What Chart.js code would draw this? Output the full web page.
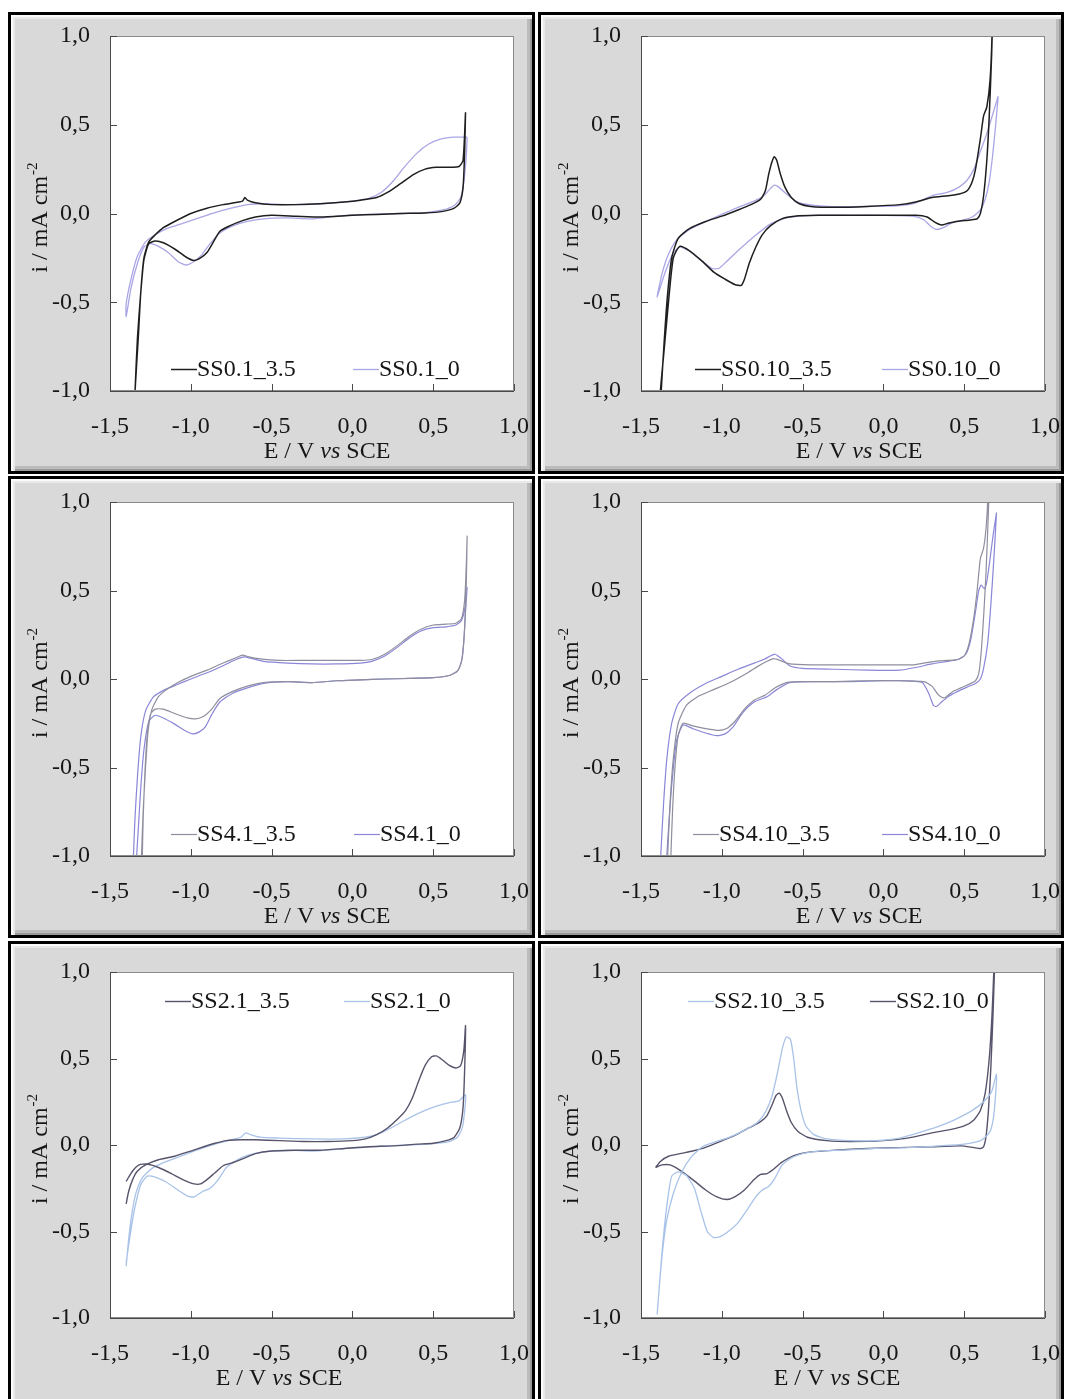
<!DOCTYPE html>
<html lang="en">
<head>
<meta charset="UTF-8">
<title>Cyclic voltammograms</title>
<script src="https://cdn.jsdelivr.net/npm/chart.js@4.4.1/dist/chart.umd.min.js"></script>
<style>
  html, body { margin: 0; padding: 0; background: #fff; width: 1065px; height: 1399px; overflow: hidden; }
  .panel {
    position: absolute; box-sizing: border-box;
    border: 3px solid #000; background: #d9d9d9;
    box-shadow: inset 2px 2px 0 #fbfbfb, inset 4px 4px 0 #e9e9e9,
                inset -2px -2px 0 #9a9a9a, inset -5px -5px 0 #bcbcbc;
  }
  .panel canvas { position: absolute; left: 0; top: 0; }
</style>
</head>
<body>
<script>
// axis ticks and titles
const xTickVals = [-1.5, -1.0, -0.5, 0.0, 0.5, 1.0];
const yTickVals = [-1.0, -0.5, 0.0, 0.5, 1.0];
const xTitleParts = ['E / V ', 'vs', ' SCE'];
const yTitleParts = ['i / mA cm', '-2'];

// [E (V vs SCE), i (mA cm-2)]
const ss01_35 = [[0.70,0.57],[0.695,0.36],[0.685,0.15],[0.665,0.06],[0.63,0.03],[0.56,0.012],[0.45,0.003],[0.3,0.0],[0.15,-0.005],[0.0,-0.01],[-0.2,-0.02],[-0.35,-0.015],[-0.5,-0.01],[-0.6,-0.02],[-0.68,-0.04],[-0.76,-0.07],[-0.82,-0.1],[-0.86,-0.16],[-0.9,-0.22],[-0.94,-0.25],[-0.98,-0.265],[-1.03,-0.245],[-1.1,-0.2],[-1.17,-0.165],[-1.22,-0.155],[-1.26,-0.17],[-1.29,-0.26],[-1.31,-0.45],[-1.33,-0.7],[-1.345,-1.0],[-1.352,-1.2],
  [-1.345,-1.0],[-1.325,-0.7],[-1.31,-0.45],[-1.29,-0.25],[-1.26,-0.16],[-1.22,-0.12],[-1.17,-0.08],[-1.1,-0.045],[-1.0,0.0],[-0.9,0.03],[-0.8,0.05],[-0.72,0.062],[-0.68,0.07],[-0.665,0.09],[-0.65,0.075],[-0.6,0.06],[-0.5,0.05],[-0.35,0.05],[-0.2,0.055],[-0.05,0.065],[0.05,0.075],[0.15,0.09],[0.22,0.12],[0.3,0.17],[0.38,0.22],[0.45,0.25],[0.52,0.26],[0.6,0.26],[0.66,0.265],[0.685,0.3],[0.70,0.57]];
const ss01_0 = [[0.71,0.43],[0.705,0.33],[0.69,0.18],[0.67,0.09],[0.63,0.045],[0.56,0.02],[0.45,0.005],[0.3,0.0],[0.1,-0.005],[-0.1,-0.015],[-0.25,-0.03],[-0.4,-0.025],[-0.55,-0.03],[-0.65,-0.045],[-0.74,-0.07],[-0.82,-0.11],[-0.88,-0.17],[-0.93,-0.23],[-0.98,-0.27],[-1.03,-0.29],[-1.08,-0.27],[-1.14,-0.22],[-1.2,-0.185],[-1.25,-0.17],[-1.29,-0.19],[-1.33,-0.28],[-1.37,-0.42],[-1.4,-0.58],
  [-1.4,-0.51],[-1.37,-0.37],[-1.33,-0.24],[-1.28,-0.16],[-1.22,-0.12],[-1.15,-0.085],[-1.05,-0.055],[-0.95,-0.025],[-0.85,0.005],[-0.75,0.03],[-0.65,0.05],[-0.55,0.055],[-0.4,0.05],[-0.2,0.055],[0.0,0.07],[0.1,0.085],[0.18,0.12],[0.25,0.18],[0.32,0.26],[0.4,0.34],[0.47,0.39],[0.55,0.42],[0.63,0.43],[0.71,0.43]];

const ss010_35 = [[0.68,1.25],[0.67,0.9],[0.655,0.55],[0.64,0.3],[0.62,0.1],[0.6,0.0],[0.58,-0.03],[0.55,-0.035],[0.5,-0.04],[0.45,-0.045],[0.4,-0.055],[0.36,-0.065],[0.32,-0.05],[0.27,-0.02],[0.2,-0.01],[0.0,-0.01],[-0.2,-0.01],[-0.4,-0.01],[-0.55,-0.015],[-0.63,-0.03],[-0.7,-0.07],[-0.75,-0.12],[-0.79,-0.19],[-0.83,-0.28],[-0.86,-0.37],[-0.88,-0.405],[-0.92,-0.4],[-0.98,-0.37],[-1.05,-0.33],[-1.12,-0.27],[-1.2,-0.21],[-1.26,-0.185],[-1.3,-0.25],[-1.33,-0.5],[-1.36,-0.8],[-1.38,-1.0],[-1.39,-1.2],
  [-1.385,-1.2],[-1.375,-1.0],[-1.355,-0.7],[-1.335,-0.45],[-1.31,-0.25],[-1.27,-0.14],[-1.2,-0.085],[-1.1,-0.045],[-1.0,-0.015],[-0.9,0.02],[-0.82,0.05],[-0.76,0.08],[-0.73,0.13],[-0.71,0.22],[-0.69,0.29],[-0.675,0.32],[-0.66,0.3],[-0.64,0.23],[-0.61,0.15],[-0.57,0.09],[-0.52,0.055],[-0.45,0.04],[-0.3,0.035],[-0.1,0.04],[0.1,0.05],[0.2,0.065],[0.3,0.09],[0.4,0.1],[0.47,0.11],[0.52,0.13],[0.55,0.18],[0.57,0.25],[0.6,0.42],[0.62,0.55],[0.64,0.6],[0.66,0.75],[0.672,1.0],[0.675,1.25]];
const ss010_0 = [[0.71,0.66],[0.695,0.5],[0.675,0.32],[0.655,0.18],[0.63,0.08],[0.6,0.02],[0.55,-0.02],[0.48,-0.04],[0.42,-0.055],[0.37,-0.08],[0.33,-0.09],[0.29,-0.07],[0.25,-0.035],[0.18,-0.015],[0.0,-0.01],[-0.2,-0.01],[-0.45,-0.01],[-0.6,-0.025],[-0.7,-0.06],[-0.8,-0.13],[-0.9,-0.21],[-0.97,-0.27],[-1.02,-0.31],[-1.06,-0.31],[-1.12,-0.27],[-1.2,-0.21],[-1.26,-0.19],[-1.3,-0.22],[-1.35,-0.33],[-1.4,-0.47],
  [-1.37,-0.34],[-1.33,-0.23],[-1.28,-0.15],[-1.2,-0.09],[-1.1,-0.045],[-1.0,-0.005],[-0.9,0.035],[-0.8,0.07],[-0.74,0.1],[-0.7,0.14],[-0.675,0.16],[-0.65,0.15],[-0.6,0.11],[-0.55,0.075],[-0.5,0.055],[-0.35,0.04],[-0.1,0.04],[0.1,0.045],[0.2,0.06],[0.3,0.1],[0.4,0.12],[0.47,0.15],[0.52,0.19],[0.56,0.25],[0.6,0.35],[0.64,0.45],[0.68,0.57],[0.71,0.66]];

const ss41_35 = [[0.71,0.81],[0.705,0.55],[0.695,0.3],[0.68,0.12],[0.655,0.05],[0.6,0.02],[0.5,0.008],[0.35,0.003],[0.2,0.0],[0.05,-0.005],[-0.1,-0.01],[-0.25,-0.02],[-0.4,-0.015],[-0.55,-0.02],[-0.65,-0.04],[-0.74,-0.07],[-0.82,-0.11],[-0.87,-0.17],[-0.92,-0.21],[-0.97,-0.225],[-1.02,-0.22],[-1.1,-0.195],[-1.17,-0.17],[-1.22,-0.17],[-1.25,-0.2],[-1.27,-0.32],[-1.285,-0.55],[-1.295,-0.8],[-1.3,-1.0],[-1.305,-1.2],
  [-1.31,-1.2],[-1.305,-1.0],[-1.295,-0.75],[-1.28,-0.5],[-1.265,-0.3],[-1.24,-0.17],[-1.2,-0.1],[-1.15,-0.06],[-1.08,-0.02],[-1.0,0.015],[-0.9,0.05],[-0.8,0.09],[-0.72,0.12],[-0.68,0.135],[-0.64,0.125],[-0.58,0.115],[-0.45,0.105],[-0.3,0.105],[-0.1,0.105],[0.05,0.105],[0.12,0.11],[0.2,0.14],[0.28,0.19],[0.35,0.24],[0.42,0.28],[0.5,0.305],[0.58,0.31],[0.64,0.315],[0.675,0.34],[0.695,0.45],[0.705,0.65],[0.71,0.81]];
const ss41_0 = [[0.71,0.52],[0.7,0.38],[0.69,0.22],[0.675,0.1],[0.65,0.045],[0.6,0.02],[0.5,0.008],[0.35,0.003],[0.2,0.0],[0.05,-0.005],[-0.1,-0.01],[-0.25,-0.02],[-0.4,-0.015],[-0.55,-0.025],[-0.65,-0.05],[-0.74,-0.08],[-0.82,-0.13],[-0.87,-0.2],[-0.91,-0.27],[-0.95,-0.3],[-0.99,-0.31],[-1.04,-0.29],[-1.1,-0.255],[-1.17,-0.22],[-1.22,-0.205],[-1.26,-0.24],[-1.29,-0.4],[-1.31,-0.62],[-1.325,-0.85],[-1.335,-1.0],[-1.34,-1.2],
  [-1.36,-1.2],[-1.355,-1.0],[-1.345,-0.78],[-1.33,-0.55],[-1.31,-0.33],[-1.28,-0.18],[-1.23,-0.1],[-1.16,-0.06],[-1.08,-0.03],[-1.0,0.0],[-0.9,0.035],[-0.8,0.075],[-0.72,0.11],[-0.67,0.125],[-0.62,0.115],[-0.55,0.1],[-0.4,0.09],[-0.25,0.085],[-0.1,0.085],[0.05,0.09],[0.12,0.1],[0.2,0.13],[0.28,0.18],[0.35,0.23],[0.42,0.27],[0.5,0.29],[0.58,0.295],[0.64,0.305],[0.675,0.33],[0.7,0.42],[0.71,0.52]];

const ss410_35 = [[0.66,1.25],[0.65,0.95],[0.635,0.6],[0.62,0.35],[0.605,0.15],[0.59,0.03],[0.57,-0.01],[0.53,-0.03],[0.48,-0.05],[0.43,-0.07],[0.39,-0.1],[0.37,-0.107],[0.34,-0.09],[0.3,-0.04],[0.25,-0.015],[0.1,-0.01],[-0.1,-0.01],[-0.3,-0.015],[-0.5,-0.015],[-0.6,-0.02],[-0.67,-0.05],[-0.73,-0.09],[-0.8,-0.12],[-0.86,-0.17],[-0.92,-0.24],[-0.97,-0.28],[-1.02,-0.29],[-1.1,-0.28],[-1.18,-0.265],[-1.24,-0.25],[-1.27,-0.32],[-1.29,-0.5],[-1.305,-0.75],[-1.315,-1.0],[-1.32,-1.2],
  [-1.34,-1.2],[-1.335,-1.0],[-1.32,-0.7],[-1.3,-0.45],[-1.27,-0.25],[-1.22,-0.15],[-1.15,-0.1],[-1.05,-0.06],[-0.95,-0.02],[-0.85,0.03],[-0.78,0.07],[-0.72,0.1],[-0.68,0.115],[-0.64,0.105],[-0.58,0.085],[-0.45,0.08],[-0.2,0.08],[0.1,0.08],[0.18,0.08],[0.25,0.09],[0.32,0.1],[0.4,0.105],[0.46,0.11],[0.5,0.13],[0.53,0.2],[0.56,0.35],[0.58,0.5],[0.6,0.68],[0.62,0.74],[0.635,0.85],[0.645,1.0],[0.65,1.25]];
const ss410_0 = [[0.7,0.94],[0.685,0.7],[0.665,0.42],[0.645,0.2],[0.62,0.06],[0.6,0.0],[0.57,-0.025],[0.52,-0.045],[0.46,-0.07],[0.4,-0.1],[0.36,-0.13],[0.33,-0.155],[0.31,-0.15],[0.28,-0.08],[0.24,-0.02],[0.15,-0.01],[0.0,-0.01],[-0.2,-0.015],[-0.4,-0.015],[-0.58,-0.02],[-0.66,-0.06],[-0.72,-0.1],[-0.8,-0.13],[-0.87,-0.19],[-0.93,-0.27],[-0.98,-0.31],[-1.03,-0.32],[-1.1,-0.305],[-1.18,-0.28],[-1.24,-0.26],[-1.28,-0.35],[-1.31,-0.6],[-1.33,-0.85],[-1.34,-1.0],[-1.345,-1.2],
  [-1.385,-1.2],[-1.378,-1.0],[-1.36,-0.7],[-1.34,-0.45],[-1.31,-0.25],[-1.27,-0.14],[-1.2,-0.08],[-1.1,-0.025],[-1.0,0.015],[-0.9,0.055],[-0.8,0.09],[-0.74,0.11],[-0.7,0.13],[-0.67,0.14],[-0.63,0.115],[-0.58,0.075],[-0.5,0.06],[-0.3,0.055],[-0.1,0.05],[0.1,0.05],[0.2,0.065],[0.3,0.085],[0.4,0.1],[0.46,0.11],[0.51,0.14],[0.54,0.22],[0.57,0.38],[0.59,0.5],[0.605,0.53],[0.625,0.51],[0.64,0.55],[0.66,0.68],[0.68,0.82],[0.7,0.94]];

const ss21_35 = [[-1.4,-0.34],[-1.385,-0.27],[-1.36,-0.2],[-1.33,-0.15],[-1.28,-0.115],[-1.2,-0.085],[-1.1,-0.065],[-1.0,-0.035],[-0.92,-0.01],[-0.85,0.01],[-0.78,0.025],[-0.7,0.03],[-0.6,0.03],[-0.45,0.025],[-0.3,0.02],[-0.15,0.02],[0.0,0.025],[0.08,0.035],[0.15,0.06],[0.22,0.1],[0.28,0.15],[0.33,0.2],[0.37,0.27],[0.41,0.37],[0.45,0.46],[0.49,0.51],[0.52,0.515],[0.56,0.49],[0.6,0.46],[0.64,0.445],[0.67,0.46],[0.69,0.55],[0.7,0.69],
  [0.695,0.45],[0.685,0.22],[0.665,0.1],[0.63,0.045],[0.58,0.025],[0.5,0.01],[0.4,0.005],[0.25,-0.005],[0.1,-0.01],[-0.05,-0.02],[-0.2,-0.03],[-0.35,-0.03],[-0.5,-0.035],[-0.6,-0.05],[-0.68,-0.08],[-0.75,-0.105],[-0.8,-0.12],[-0.85,-0.16],[-0.9,-0.2],[-0.94,-0.225],[-0.98,-0.225],[-1.05,-0.2],[-1.12,-0.165],[-1.2,-0.13],[-1.27,-0.11],[-1.32,-0.115],[-1.36,-0.15],[-1.4,-0.21]];
const ss21_0 = [[-1.4,-0.7],[-1.385,-0.55],[-1.365,-0.4],[-1.34,-0.28],[-1.3,-0.19],[-1.24,-0.135],[-1.15,-0.095],[-1.05,-0.06],[-0.95,-0.025],[-0.85,0.005],[-0.75,0.03],[-0.69,0.045],[-0.66,0.07],[-0.63,0.06],[-0.57,0.045],[-0.45,0.04],[-0.25,0.035],[-0.05,0.035],[0.08,0.045],[0.15,0.06],[0.22,0.09],[0.3,0.13],[0.38,0.17],[0.45,0.2],[0.52,0.225],[0.6,0.245],[0.66,0.255],[0.7,0.29],
  [0.695,0.2],[0.68,0.1],[0.65,0.045],[0.6,0.02],[0.5,0.008],[0.35,0.0],[0.2,-0.005],[0.05,-0.015],[-0.1,-0.025],[-0.25,-0.035],[-0.4,-0.03],[-0.55,-0.04],[-0.65,-0.06],[-0.72,-0.09],[-0.78,-0.13],[-0.83,-0.2],[-0.88,-0.25],[-0.93,-0.27],[-0.98,-0.3],[-1.02,-0.295],[-1.08,-0.26],[-1.15,-0.215],[-1.22,-0.185],[-1.27,-0.18],[-1.31,-0.23],[-1.35,-0.38],[-1.38,-0.55],[-1.4,-0.68]];

const ss210_35 = [[-1.4,-0.98],[-1.385,-0.8],[-1.365,-0.6],[-1.34,-0.43],[-1.3,-0.28],[-1.25,-0.16],[-1.19,-0.07],[-1.12,-0.01],[-1.05,0.015],[-0.95,0.045],[-0.85,0.09],[-0.78,0.13],[-0.73,0.19],[-0.69,0.28],[-0.655,0.42],[-0.625,0.56],[-0.6,0.625],[-0.575,0.61],[-0.555,0.5],[-0.535,0.33],[-0.51,0.2],[-0.48,0.11],[-0.43,0.06],[-0.35,0.035],[-0.2,0.025],[-0.05,0.025],[0.1,0.04],[0.25,0.08],[0.35,0.11],[0.45,0.15],[0.55,0.2],[0.62,0.25],[0.67,0.31],[0.7,0.41],
  [0.695,0.3],[0.68,0.15],[0.655,0.07],[0.6,0.025],[0.5,0.005],[0.35,-0.005],[0.15,-0.015],[-0.05,-0.02],[-0.25,-0.03],[-0.4,-0.035],[-0.5,-0.05],[-0.58,-0.08],[-0.63,-0.12],[-0.67,-0.19],[-0.71,-0.24],[-0.75,-0.26],[-0.79,-0.3],[-0.84,-0.37],[-0.9,-0.45],[-0.96,-0.5],[-1.01,-0.53],[-1.05,-0.535],[-1.09,-0.5],[-1.13,-0.38],[-1.17,-0.25],[-1.22,-0.175],[-1.27,-0.155],[-1.31,-0.18],[-1.34,-0.35],[-1.37,-0.62],[-1.4,-0.98]];
const ss210_0 = [[-1.41,-0.13],[-1.38,-0.095],[-1.33,-0.065],[-1.26,-0.05],[-1.18,-0.035],[-1.12,-0.02],[-1.05,0.005],[-0.97,0.035],[-0.9,0.065],[-0.83,0.1],[-0.76,0.135],[-0.72,0.17],[-0.69,0.23],[-0.665,0.285],[-0.645,0.3],[-0.625,0.27],[-0.6,0.2],[-0.57,0.13],[-0.53,0.08],[-0.47,0.045],[-0.35,0.025],[-0.2,0.02],[0.0,0.025],[0.15,0.04],[0.3,0.07],[0.42,0.09],[0.5,0.11],[0.56,0.145],[0.6,0.2],[0.63,0.3],[0.655,0.5],[0.672,0.75],[0.683,1.0],[0.69,1.25],
  [0.695,1.25],[0.68,0.8],[0.665,0.45],[0.65,0.2],[0.635,0.05],[0.62,-0.01],[0.6,-0.02],[0.56,-0.015],[0.48,-0.005],[0.3,-0.01],[0.1,-0.015],[-0.1,-0.02],[-0.3,-0.03],[-0.45,-0.04],[-0.55,-0.06],[-0.63,-0.1],[-0.68,-0.14],[-0.72,-0.165],[-0.76,-0.17],[-0.8,-0.2],[-0.86,-0.26],[-0.92,-0.3],[-0.97,-0.315],[-1.03,-0.3],[-1.1,-0.26],[-1.18,-0.2],[-1.26,-0.145],[-1.32,-0.115],[-1.37,-0.115],[-1.41,-0.13]];

// page geometry (px): outer box [start, size] and plot area [start, end]
const cols = [{ box: [8, 527], plot: [110, 514] }, { box: [538, 526], plot: [641, 1045] }];
const rows = [{ box: [12, 462], plot: [36, 391] }, { box: [476, 462], plot: [502, 856] }, { box: [941, 470], plot: [972, 1318] }];

const C = { black: '#1e1e1e', lilac: '#aaa6e6', grey: '#8e8e9e', violet: '#8a86d8', dark: '#57536b', sky: '#a9c3e8' };

const panelDefs = [
  { col: 0, row: 0, legend: 'bottom', legendX: [61, 243], titleDx: 15,
    series: [['SS0.1_3.5', ss01_35, C.black, 1.5], ['SS0.1_0', ss01_0, C.lilac, 1.3]] },
  { col: 1, row: 0, legend: 'bottom', legendX: [54, 241], titleDx: 16,
    series: [['SS0.10_3.5', ss010_35, C.black, 1.5], ['SS0.10_0', ss010_0, C.lilac, 1.3]] },
  { col: 0, row: 1, legend: 'bottom', legendX: [61, 244], titleDx: 15,
    series: [['SS4.1_3.5', ss41_35, C.grey, 1.2], ['SS4.1_0', ss41_0, C.violet, 1.2]] },
  { col: 1, row: 1, legend: 'bottom', legendX: [52, 241], titleDx: 16,
    series: [['SS4.10_3.5', ss410_35, C.grey, 1.2], ['SS4.10_0', ss410_0, C.violet, 1.2]] },
  { col: 0, row: 2, legend: 'top', legendX: [55, 234], titleDx: -33,
    series: [['SS2.1_3.5', ss21_35, C.dark, 1.4], ['SS2.1_0', ss21_0, C.sky, 1.3]] },
  { col: 1, row: 2, legend: 'top', legendX: [47, 229], titleDx: -6,
    series: [['SS2.10_3.5', ss210_35, C.sky, 1.3], ['SS2.10_0', ss210_0, C.dark, 1.4]] }
];

const FONT = "'Liberation Serif', 'Times New Roman', serif";
const FS = 24;
const TEXT = '#161616';
const fmt = v => Number(v).toFixed(1).replace('.', ',');

Chart.defaults.font.family = FONT;
Chart.defaults.font.size = FS;
Chart.defaults.color = TEXT;

// white plot area, frame, inward ticks, axis titles and the legend inside the plot
const cvDecor = {
  id: 'cvDecor',
  beforeDraw(chart) {
    const { ctx, chartArea: a } = chart;
    ctx.save();
    ctx.fillStyle = '#fff';
    ctx.fillRect(a.left, a.top, a.right - a.left, a.bottom - a.top);
    ctx.restore();
  },
  afterDraw(chart, args, o) {
    const { ctx, chartArea: a, scales } = chart;
    ctx.save();
    ctx.strokeStyle = '#8a8a8a';
    ctx.lineWidth = 1;
    ctx.strokeRect(a.left + 0.5, a.top + 0.5, a.right - a.left - 1, a.bottom - a.top - 1);
    ctx.strokeStyle = '#4a4a4a';
    ctx.beginPath();
    ctx.moveTo(a.left + 0.5, a.top); ctx.lineTo(a.left + 0.5, a.bottom + 0.5); ctx.lineTo(a.right, a.bottom + 0.5);
    scales.x.ticks.forEach(t => {
      const px = Math.round(scales.x.getPixelForValue(t.value)) + 0.5;
      ctx.moveTo(px, a.bottom); ctx.lineTo(px, a.bottom - 7);
    });
    scales.y.ticks.forEach(t => {
      const py = Math.round(scales.y.getPixelForValue(t.value)) + 0.5;
      ctx.moveTo(a.left, py); ctx.lineTo(a.left + 7, py);
    });
    ctx.stroke();

    ctx.fillStyle = TEXT;
    ctx.textBaseline = 'alphabetic';
    ctx.textAlign = 'left';
    // x title with italic "vs"
    const fonts = [FS + 'px ' + FONT, 'italic ' + FS + 'px ' + FONT, FS + 'px ' + FONT];
    const widths = xTitleParts.map((s, i) => { ctx.font = fonts[i]; return ctx.measureText(s).width; });
    let x = (a.left + a.right) / 2 + o.titleDx - widths.reduce((p, q) => p + q, 0) / 2;
    xTitleParts.forEach((s, i) => { ctx.font = fonts[i]; ctx.fillText(s, x, a.bottom + 67); x += widths[i]; });

    // y title with superscript
    ctx.save();
    ctx.translate(a.left - 63, (a.top + a.bottom) / 2 + 4);
    ctx.rotate(-Math.PI / 2);
    ctx.font = FS + 'px ' + FONT;
    const w0 = ctx.measureText(yTitleParts[0]).width;
    ctx.font = '15px ' + FONT;
    const w1 = ctx.measureText(yTitleParts[1]).width;
    const x0 = -(w0 + w1 + 1) / 2;
    ctx.font = FS + 'px ' + FONT;
    ctx.fillText(yTitleParts[0], x0, 0);
    ctx.font = '15px ' + FONT;
    ctx.fillText(yTitleParts[1], x0 + w0 + 1, -10);
    ctx.restore();

    // legend
    const ly = o.legend === 'top' ? a.top + 29 : a.bottom - 22;
    ctx.font = FS + 'px ' + FONT;
    ctx.textBaseline = 'middle';
    chart.data.datasets.forEach((ds, i) => {
      const lx = a.left + o.legendX[i];
      ctx.strokeStyle = ds.borderColor;
      ctx.lineWidth = ds.borderWidth;
      ctx.beginPath();
      ctx.moveTo(lx, ly + 0.5); ctx.lineTo(lx + 26, ly + 0.5);
      ctx.stroke();
      ctx.fillText(ds.label, lx + 26, ly + 1);
    });
    ctx.restore();
  }
};

panelDefs.forEach(p => {
  const col = cols[p.col], row = rows[p.row];
  const ox = col.box[0] + 3, oy = row.box[0] + 3;
  const cw = col.box[1] - 6, chh = row.box[1] - 6;
  const axisW = col.plot[0] - ox;
  const axisH = oy + chh - row.plot[1];

  const div = document.createElement('div');
  div.className = 'panel';
  Object.assign(div.style, { left: col.box[0] + 'px', top: row.box[0] + 'px', width: col.box[1] + 'px', height: row.box[1] + 'px' });
  const canvas = document.createElement('canvas');
  canvas.width = cw; canvas.height = chh;
  canvas.style.width = cw + 'px'; canvas.style.height = chh + 'px';
  div.appendChild(canvas);
  document.body.appendChild(div);

  new Chart(canvas, {
    type: 'scatter',
    data: {
      datasets: p.series.map(([label, pts, color, lw]) => ({
        label,
        data: pts.map(([e, i]) => ({ x: e, y: i })),
        borderColor: color,
        backgroundColor: color,
        borderWidth: lw,
        showLine: true,
        pointRadius: 0,
        tension: 0.2
      }))
    },
    options: {
      responsive: false,
      animation: false,
      events: [],
      layout: { padding: { left: 0, top: row.plot[0] - oy, right: ox + cw - col.plot[1], bottom: 0 } },
      elements: { line: { capBezierPoints: false } },
      plugins: {
        legend: { display: false },
        tooltip: { enabled: false },
        cvDecor: { legend: p.legend, legendX: p.legendX, titleDx: p.titleDx }
      },
      scales: {
        x: {
          type: 'linear', min: -1.5, max: 1.0,
          afterBuildTicks: s => { s.ticks = xTickVals.map(v => ({ value: v })); },
          afterFit: s => { s.height = axisH; s.paddingLeft = 0; s.paddingRight = 0; },
          ticks: { autoSkip: false, maxRotation: 0, padding: 21, callback: fmt },
          grid: { display: false, drawTicks: false },
          border: { display: false }
        },
        y: {
          type: 'linear', min: -1.0, max: 1.0,
          afterBuildTicks: s => { s.ticks = yTickVals.map(v => ({ value: v })); },
          afterFit: s => { s.width = axisW; s.paddingTop = 0; s.paddingBottom = 0; },
          ticks: { autoSkip: false, padding: 20, callback: fmt },
          grid: { display: false, drawTicks: false },
          border: { display: false }
        }
      }
    },
    plugins: [cvDecor]
  });
});
</script>
</body>
</html>
